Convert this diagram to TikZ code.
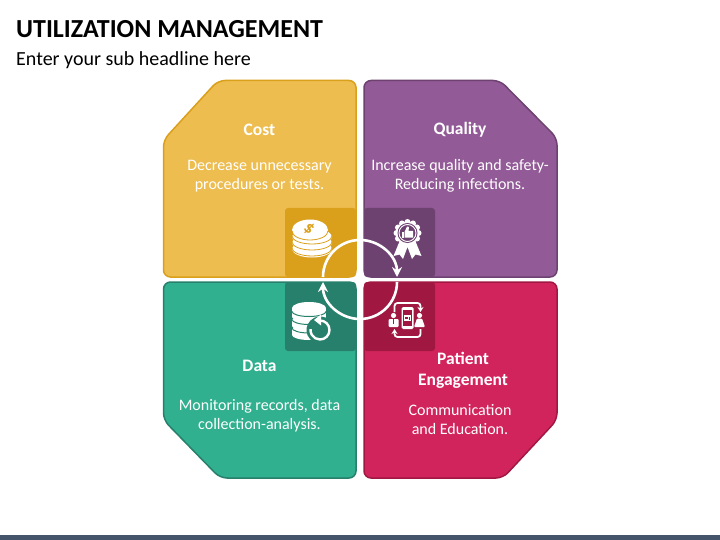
\documentclass[tikz,border=0pt]{standalone}
\usepackage{fontspec}
\setmainfont{Carlito}
\usetikzlibrary{arrows.meta}
\definecolor{cGold}{HTML}{EDBD50}\definecolor{cGoldD}{HTML}{DBA01B}
\definecolor{cPur}{HTML}{925A96}\definecolor{cPurD}{HTML}{6D4270}
\definecolor{cGrn}{HTML}{30B08F}\definecolor{cGrnD}{HTML}{26806B}
\definecolor{cRed}{HTML}{D2245C}\definecolor{cRedD}{HTML}{A01842}
\definecolor{cBar}{HTML}{44546A}
\tikzset{
 panel/.style={line width=1.5pt,rounded corners=7pt},
 inner/.style={rounded corners=3pt},
 headtxt/.style={font=\bfseries\fontsize{17.5}{21}\selectfont,text=white,align=center,inner sep=0pt},
 bodytxt/.style={font=\fontsize{16}{19}\selectfont,text=white,align=center,inner sep=0pt},
 ring/.style={draw=white,line width=2.6pt,-{Stealth[length=10pt,width=10pt]}},
 loopline/.style={draw=white,line width=1.8pt,rounded corners=3pt},
}
\begin{document}
\begin{tikzpicture}[x=1pt,y=-1pt]
\useasboundingbox (0,0) rectangle (720,540);
\fill[white] (0,0) rectangle (720,540);
\fill[cBar] (0,535) rectangle (720,540);
\node[anchor=west,inner sep=0pt,font=\bfseries\fontsize{26}{30}\selectfont] (title) at (16,29) {UTILIZATION MANAGEMENT};
\node[anchor=west,inner sep=0pt,font=\fontsize{20}{24}\selectfont] (sub) at (16,60) {Enter your sub headline here};
% panels
\draw[panel,fill=cGold,draw=cGoldD] (163.5,140) -- (218,80.5) -- (356,80.5) -- (356,277) -- (163.5,277) -- cycle;
\draw[panel,fill=cPur,draw=cPurD] (364,80.5) -- (500,80.5) -- (557,138) -- (557,277) -- (364,277) -- cycle;
\draw[panel,fill=cGrn,draw=cGrnD] (163.5,282) -- (356,282) -- (356,478) -- (220,478) -- (163.5,420) -- cycle;
\draw[panel,fill=cRed,draw=cRedD] (364,282) -- (557,282) -- (557,420) -- (503,478) -- (364,478) -- cycle;
% inner squares
\fill[inner,cGoldD] (285,208) rectangle (356,277);
\fill[inner,cPurD] (364,208) rectangle (435,277);
\fill[inner,cGrnD] (285,282) rectangle (356,351);
\fill[inner,cRedD] (364,282) rectangle (435,351);
\fill[white] (360,272) -- (364,279.5) -- (360,287) -- (356,279.5) -- cycle;
% texts
\node[headtxt] (t1) at (259.5,130) {Cost};
\node[bodytxt] (b1) at (259.5,176) {Decrease unnecessary\\procedures or tests.};
\node[headtxt] (t2) at (460,130) {Quality};
\node[bodytxt] (b2) at (460,176) {Increase quality and safety-\\Reducing infections.};
\node[headtxt] (t3) at (259.5,366) {Data};
\node[bodytxt] (b3) at (259.5,415.5) {Monitoring records, data\\collection-analysis.};
\node[headtxt] (t4) at (463,370) {Patient\\Engagement};
\node[bodytxt] (b4) at (460,420) {Communication\\and Education.};
% ring
\draw[ring] (323,277) arc[start angle=180,end angle=360,radius=37];
\draw[ring] (397,282) arc[start angle=0,end angle=180,radius=37];
% coins
\begin{scope}[shift={(312,236)}]
 \foreach \yy in {13,7,1}{
  \fill[white] (0,\yy) ellipse[x radius=20,y radius=8.5];
  \draw[cGoldD,line width=.8pt] (-20,\yy-1) arc[start angle=180,end angle=0,x radius=20,y radius=8];}
 \fill[white] (-2,-6) ellipse[x radius=18,y radius=10.5];
 \draw[cGoldD,line width=.8pt] (-20,-5) arc[start angle=180,end angle=0,x radius=18,y radius=9];
 \node[font=\bfseries\fontsize{17}{17}\selectfont,text=cGoldD,inner sep=0pt,rotate=-40] (dollar) at (-3,-7) {\$};
\end{scope}
% badge
\begin{scope}[shift={(407.5,233)}]
 \fill[white] (-7,6) -- (-14,23) -- (-8,21.5) -- (-4.5,26) -- (0,14) -- (4.5,26) -- (8,21.5) -- (14,23) -- (7,6) -- cycle;
 \foreach \a in {0,30,...,330}{\fill[white] (\a:11) circle[radius=3];}
 \fill[white] (0,0) circle[radius=11.5];
 \fill[cPurD] (0,0) circle[radius=10];
 \draw[white,line width=.9pt] (0,0) circle[radius=8.5];
 \fill[white] (-5.5,-1) rectangle (-3.5,5);
 \fill[white] (-3,-1) -- (-0.5,-6.5) -- (1.5,-6) -- (1,-2) -- (5.5,-2) -- (5.5,4.5) -- (-3,4.5) -- cycle;
\end{scope}
% database
\begin{scope}[shift={(309,322)}]
 \fill[white] (0,-14) ellipse[x radius=17,y radius=6];
 \fill[white] (-17,-14) rectangle (17,-5);
 \fill[white] (0,-5) ellipse[x radius=17,y radius=4.5];
 \fill[white] (-17,-3) rectangle (17,4);
 \fill[white] (0,4) ellipse[x radius=17,y radius=4.5];
 \fill[white] (-17,6) rectangle (17,13);
 \fill[white] (0,13) ellipse[x radius=17,y radius=5];
 \draw[cGrnD,line width=1pt] (-17,-10.5) arc[start angle=180,end angle=0,x radius=17,y radius=5];
 \draw[cGrnD,line width=1pt] (-17,-2.5) arc[start angle=180,end angle=0,x radius=17,y radius=5];
 \draw[cGrnD,line width=1pt] (-17,6) arc[start angle=180,end angle=0,x radius=17,y radius=5];
 \fill[cGrnD] (11,8) circle[radius=13.5];
 \draw[white,line width=2.4pt] (11,-1.5) arc[start angle=-90,end angle=185,radius=9.5];
 \fill[white] (5,-2) -- (12,-7.5) -- (12,3.5) -- cycle;
\end{scope}
% phone
\begin{scope}[shift={(407.5,320)}]
 \fill[white,rounded corners=1.5pt] (-6,-13) rectangle (6,9);
 \fill[cRedD] (-4.5,-10) rectangle (4.5,6);
 \fill[white] (-3.5,-5) rectangle (3.5,1);
 \fill[cRedD] (-2.5,-3) rectangle (0,-1);
 \fill[cRedD] (1,-3) rectangle (2.6,0);
 \draw[loopline,-{Stealth[length=5pt,width=6pt]}] (-13,-8) -- (-13,-17) -- (13,-17) -- (13,-8);
 \draw[loopline,-{Stealth[length=5pt,width=6pt]}] (13,9) -- (13,17) -- (-13,17) -- (-13,9);
 \fill[white] (-14,-4.5) circle[radius=2.6];
 \fill[white,rounded corners=1pt] (-19,7) -- (-19,-1) -- (-9,-1) -- (-9,7) -- cycle;
 \fill[cRedD] (-14.5,-1) -- (-13.5,-1) -- (-13.5,4) -- (-14.5,4) -- cycle;
 \fill[white] (12,-4.5) circle[radius=2.6];
 \fill[white,rounded corners=1pt] (6.5,7) -- (9.5,-1.5) -- (14.5,-1.5) -- (17.5,7) -- cycle;
\end{scope}
\end{tikzpicture}
\end{document}
